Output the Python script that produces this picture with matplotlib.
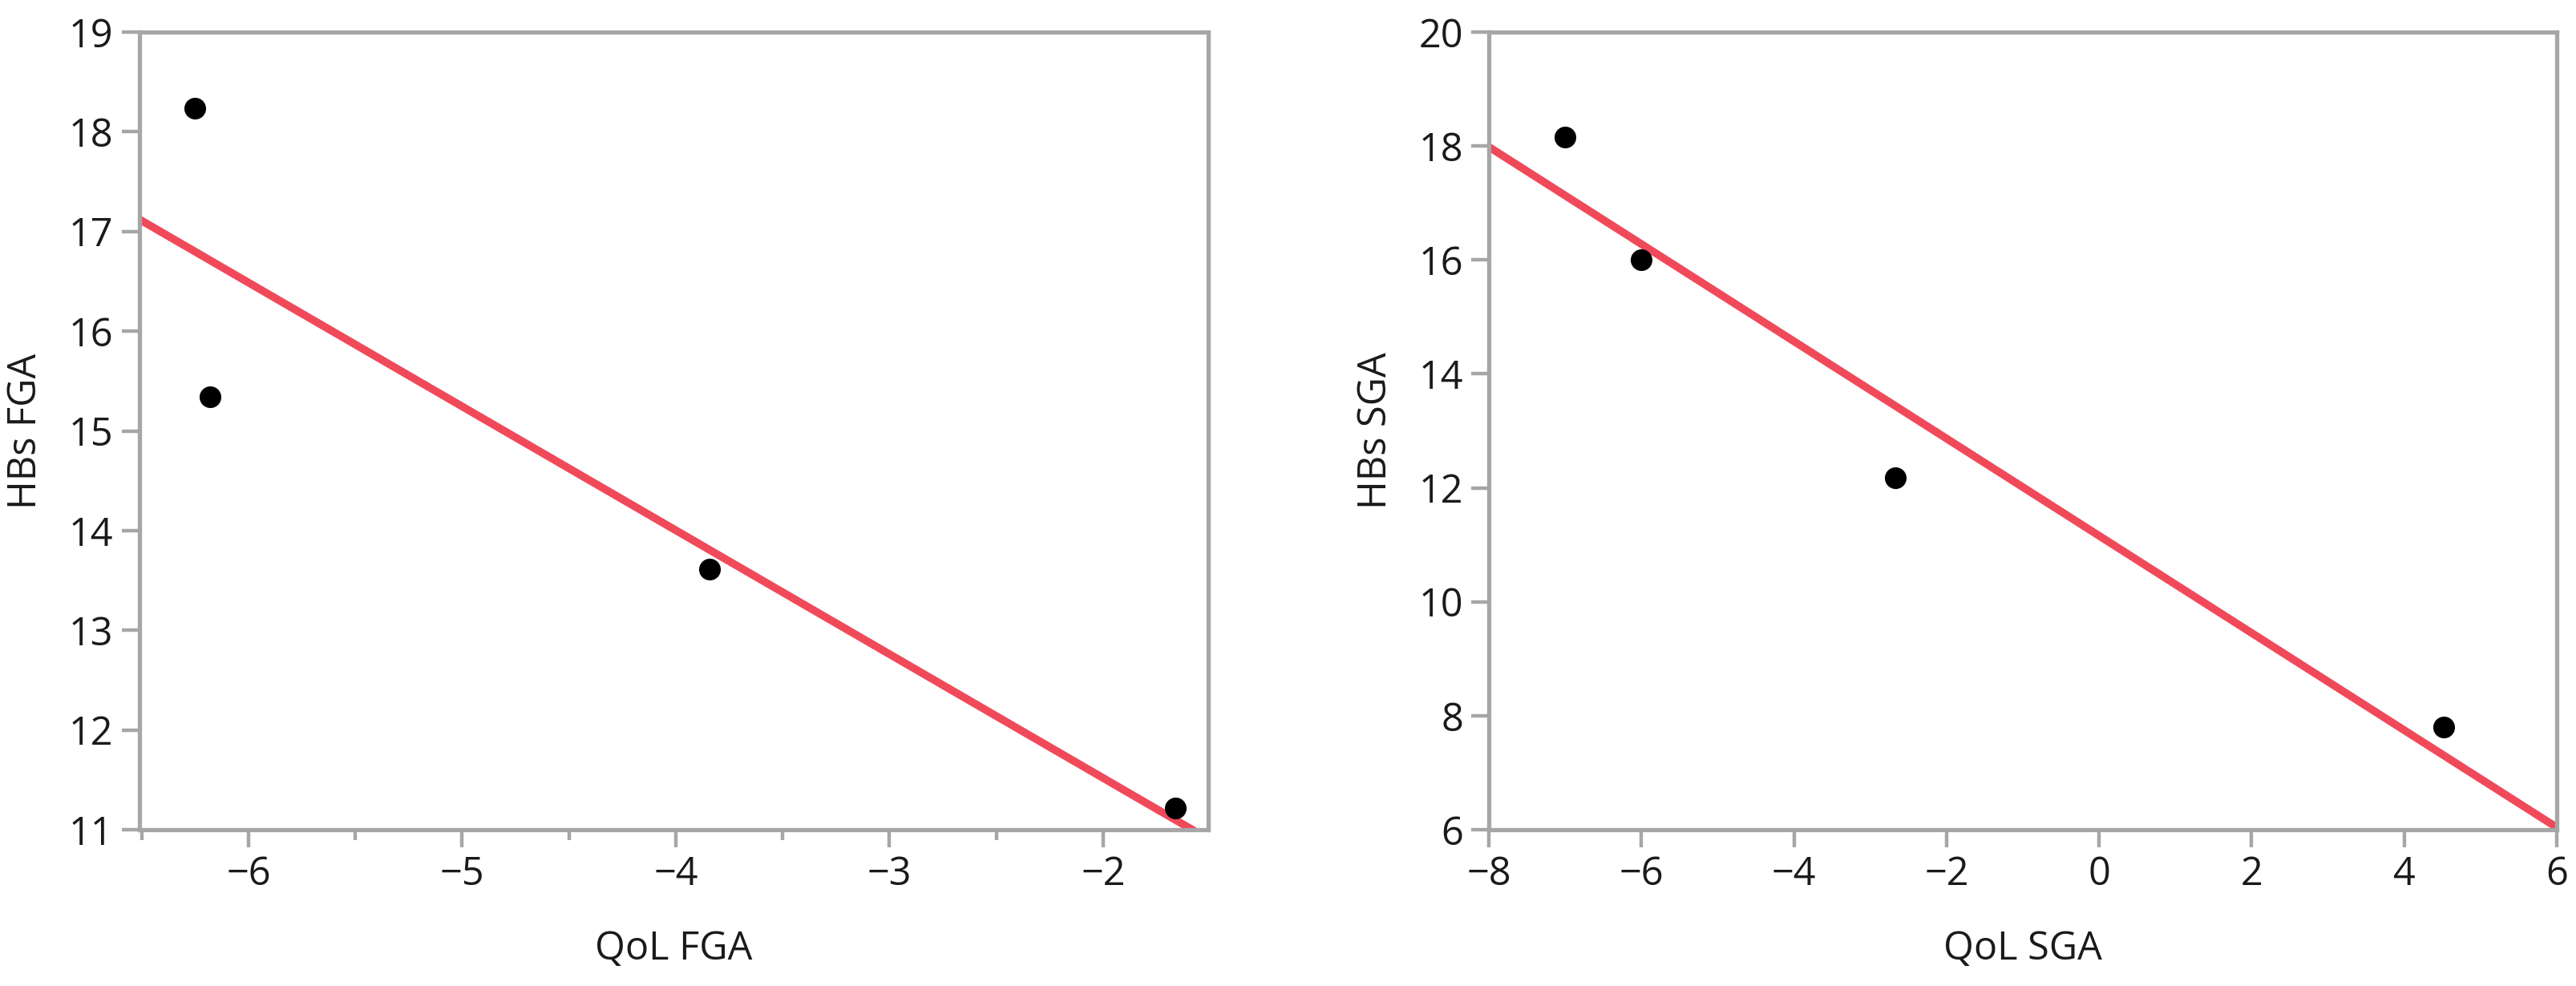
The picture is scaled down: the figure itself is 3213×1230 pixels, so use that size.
import numpy as np
import matplotlib
matplotlib.use("Agg")
import matplotlib.pyplot as plt
from matplotlib.ticker import MultipleLocator

plt.rcParams['font.family'] = ['Open Sans', 'DejaVu Sans']

# left panel: first gestational age
qol_fga = [-6.25, -6.18, -3.84, -1.66]
hbs_fga = [18.24, 15.34, 13.61, 11.22]

# right panel: second gestational age
qol_sga = [-7.0, -6.0, -2.67, 4.52]
hbs_sga = [18.16, 16.01, 12.18, 7.80]

spine_grey = '#a6a6a6'
line_red = '#f04a5a'

fig = plt.figure(figsize=(32.13, 12.30), dpi=100)
ax1 = fig.add_axes([0.054, 0.1585, 0.415, 0.809])
ax2 = fig.add_axes([0.578, 0.1585, 0.4145, 0.809])


def draw_panel(ax, x, y, xlim, ylim, xstep, ystep, xlabel, ylabel, minor=None):
    # least squares fit line, like the JMP bivariate fit
    slope, icept = np.polyfit(x, y, 1)
    xs = np.array(xlim)
    ax.plot(xs, slope * xs + icept, color=line_red, lw=7, solid_capstyle='butt', zorder=2)
    ax.scatter(x, y, s=380, color='black', zorder=3, linewidths=0)

    ax.set_xlim(*xlim)
    ax.set_ylim(*ylim)
    ax.xaxis.set_major_locator(MultipleLocator(xstep))
    ax.yaxis.set_major_locator(MultipleLocator(ystep))
    if minor:
        ax.xaxis.set_minor_locator(MultipleLocator(minor))

    for s in ax.spines.values():
        s.set_color(spine_grey)
        s.set_linewidth(3.8)
    ax.tick_params(axis='both', which='major', length=16, width=3.2,
                   color=spine_grey, labelsize=35, labelcolor='#1a1a1a', pad=7)
    ax.tick_params(axis='x', which='minor', length=9, width=3.2, color=spine_grey)

    ax.set_xlabel(xlabel, fontsize=35, color='#1a1a1a')
    ax.set_ylabel(ylabel, fontsize=35, color='#1a1a1a')
    ax.xaxis.set_label_coords(0.5, -0.125)
    ax.yaxis.set_label_coords(-0.087, 0.5)


draw_panel(ax1, qol_fga, hbs_fga, (-6.512, -1.508), (11, 19), 1, 1,
           'QoL FGA', 'HBs FGA', minor=0.5)
draw_panel(ax2, qol_sga, hbs_sga, (-8, 6), (6, 20), 2, 2,
           'QoL SGA', 'HBs SGA')

fig.savefig('out.png', dpi=100, facecolor='white')
